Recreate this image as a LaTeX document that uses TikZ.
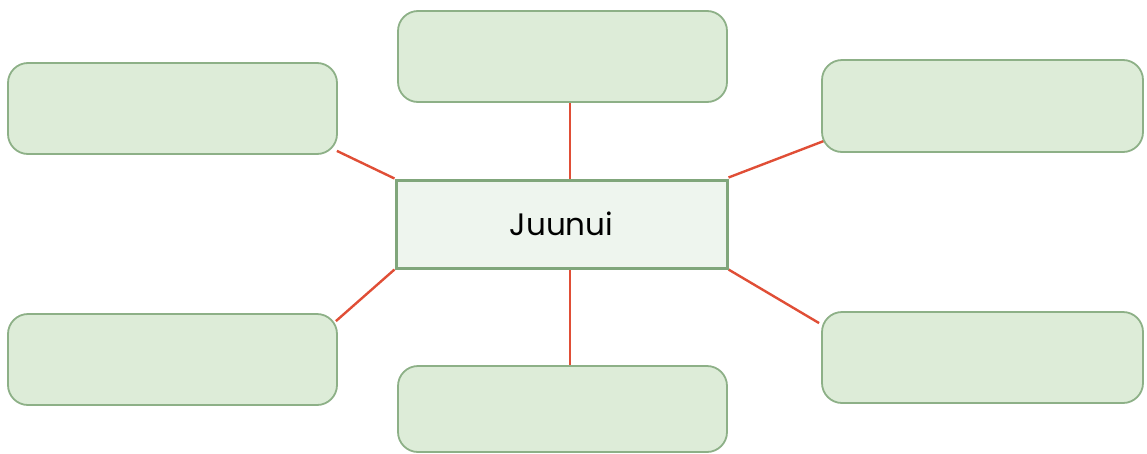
\documentclass[tikz,border=0pt]{standalone}
\usepackage{fontspec}
\setmainfont{Poppins}
\usetikzlibrary{calc,backgrounds}
\definecolor{boxfill}{HTML}{DDECD8}
\definecolor{boxedge}{HTML}{8DB087}
\definecolor{cfill}{HTML}{EEF5EE}
\definecolor{cedge}{HTML}{80A67B}
\definecolor{link}{HTML}{E04E36}
\tikzset{
  leaf/.style={draw=boxedge, fill=boxfill, line width=1.8pt, rounded corners=20pt, inner sep=0pt},
  hub/.style={draw=cedge, fill=cfill, line width=3pt, inner sep=0pt, font=\fontsize{31}{34}\selectfont},
  linkline/.style={draw=link, line width=2.4pt}
}
\begin{document}
\begin{tikzpicture}[x=1pt,y=-1pt]
\useasboundingbox (0,0) rectangle (1147,453);
\node[hub, minimum width=331pt, minimum height=88pt] (c) at (561.5,224) {Juunui};
\node[leaf, minimum width=329pt, minimum height=91pt] (tl) at (172.5,108.5) {};
\node[leaf, minimum width=329pt, minimum height=91pt] (tc) at (562.5,56.5) {};
\node[leaf, minimum width=321pt, minimum height=92pt] (tr) at (982.5,106) {};
\node[leaf, minimum width=329pt, minimum height=91pt] (bl) at (172.5,359.5) {};
\node[leaf, minimum width=329pt, minimum height=86pt] (bc) at (562.5,409) {};
\node[leaf, minimum width=321pt, minimum height=91pt] (br) at (982.5,357.5) {};
\begin{scope}[on background layer]
\draw[linkline] ($(tl.south east)+(-1,-4)$) -- (c.north west);
\draw[linkline] ($(tc.south)+(7.5,0)$) -- ($(c.north)+(8.5,0)$);
\draw[linkline] ($(tr.south west)+(3,-12)$) -- ($(c.north east)+(0,-1)$);
\draw[linkline] ($(bl.north east)+(-2,8)$) -- (c.south west);
\draw[linkline] ($(c.south)+(8.5,0)$) -- ($(bc.north)+(7.5,0)$);
\draw[linkline] (c.south east) -- ($(br.north west)+(-2,12)$);
\end{scope}
\end{tikzpicture}
\end{document}
